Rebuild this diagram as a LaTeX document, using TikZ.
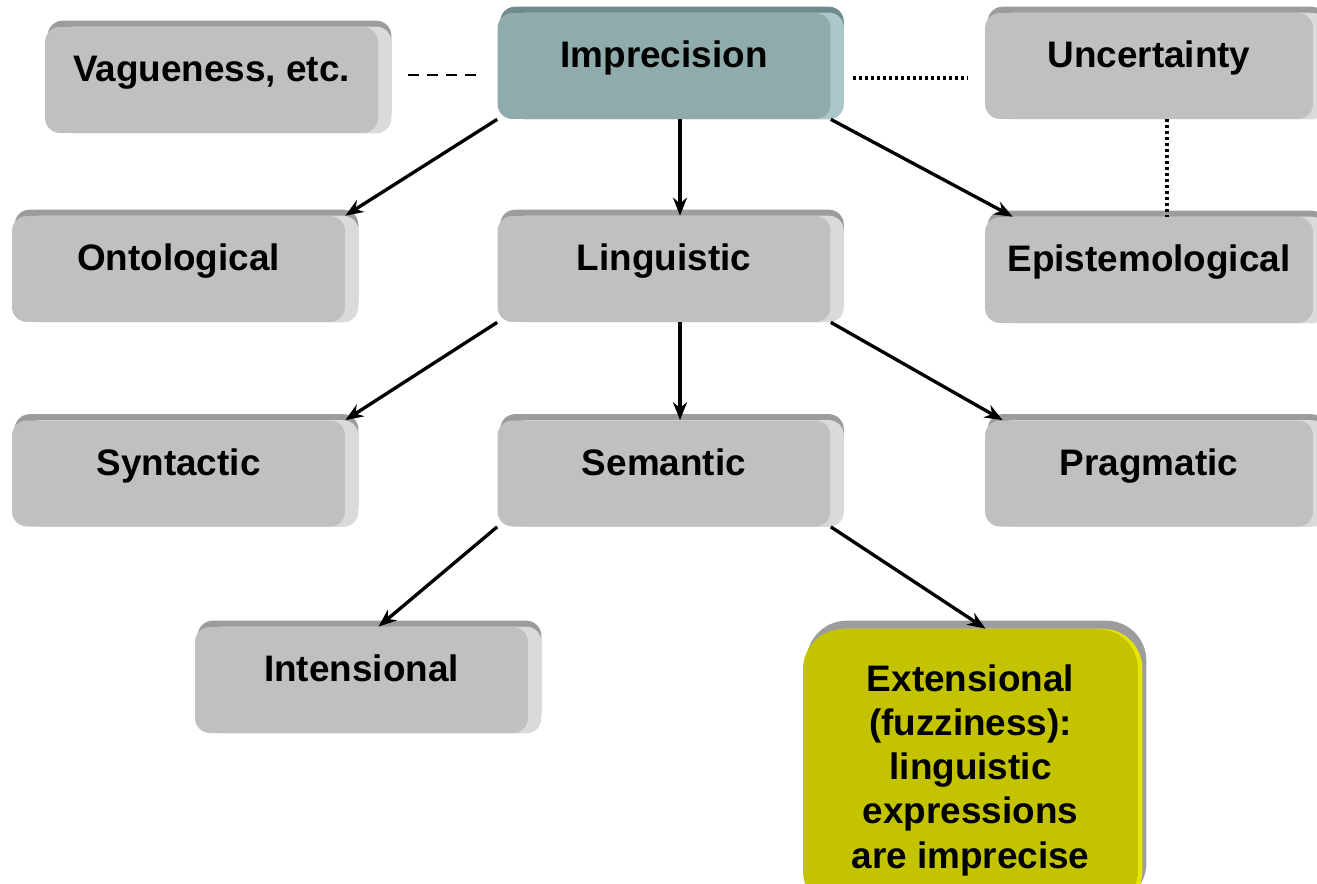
\documentclass[tikz,border=0pt]{standalone}
\usepackage{fontspec}
\setmainfont{Liberation Sans}
\usetikzlibrary{arrows.meta,backgrounds}
\definecolor{boxface}{HTML}{C0C0C0}
\definecolor{bevtop}{HTML}{9C9C9C}
\definecolor{bevside}{HTML}{DADADA}
\definecolor{impface}{HTML}{8FABAC}
\definecolor{imptop}{HTML}{6F8B8D}
\definecolor{impside}{HTML}{ABC7C9}
\definecolor{extface}{HTML}{C4C300}
\definecolor{extside}{HTML}{E6E600}
\tikzset{
  box/.style={rounded corners=0.3cm, fill=boxface, minimum width=6.66cm, minimum height=2.12cm,
    inner sep=0pt, text height=12pt, text depth=10.3pt},
  link/.style={line width=1.9pt, ->},
  dashline/.style={line width=1.2pt, dash pattern=on 0.22cm off 0.16cm},
  dotline/.style={line width=1.8pt, dash pattern=on 0.06cm off 0.06cm}
}
\begin{document}
\begin{tikzpicture}[x=0.02cm, y=-0.02cm, line join=round, >={Stealth[length=0.36cm,width=0.28cm]},
    font=\fontsize{21}{25.2}\selectfont\bfseries]
  \useasboundingbox (0,0) rectangle (1317,883);
  \clip (0,0) rectangle (1317,883);
  % boxes
  \node[box] (vag) at (211.5,80) {Vagueness, etc.};
  \node[box, fill=impface] (imp) at (664,66) {Imprecision};
  \node[box, minimum width=6.56cm] (unc) at (1149,66) {Uncertainty};
  \node[box] (ont) at (178.5,269) {Ontological};
  \node[box] (lin) at (664,269) {Linguistic};
  \node[box, minimum width=6.56cm] (epi) at (1149,270) {Epistemological};
  \node[box] (syn) at (178.5,473.5) {Syntactic};
  \node[box] (sem) at (664,473.5) {Semantic};
  \node[box, minimum width=6.56cm] (pra) at (1149,473.5) {Pragmatic};
  \node[box] (int) at (361.5,680) {Intensional};
  \node[box, rounded corners=0.8cm, fill=extface, minimum width=6.7cm, minimum height=5.64cm,
    text height=, text depth=, align=center] (ext) at (970.5,770)
    {Extensional\\(fuzziness):\\linguistic\\expressions\\are imprecise};
  % bevels
  \begin{scope}[on background layer]
    \foreach \nm/\tc/\sc in {vag/bevtop/bevside, imp/imptop/impside, unc/bevtop/bevside,
        ont/bevtop/bevside, lin/bevtop/bevside, epi/bevtop/bevside, syn/bevtop/bevside,
        sem/bevtop/bevside, pra/bevtop/bevside, int/bevtop/bevside} {
      \fill[\tc, rounded corners=0.3cm] ([shift={(3,-6)}]\nm.south west) rectangle ([shift={(13,-6)}]\nm.north east);
      \fill[\sc, rounded corners=0.3cm] ([shift={(13,0)}]\nm.south west) rectangle ([shift={(13,0)}]\nm.north east);
    }
    \fill[bevtop, rounded corners=0.8cm] ([shift={(4,-8)}]ext.south west) rectangle ([shift={(8,-8)}]ext.north east);
    \fill[extside, rounded corners=0.8cm] ([shift={(4,0)}]ext.south west) rectangle ([shift={(4,0)}]ext.north east);
  \end{scope}
  % connectors
  \draw[link] (imp.south west) -- (ont.north east);
  \draw[link] ([xshift=0.32cm]imp.south) -- ([xshift=0.32cm]lin.north);
  \draw[link] (imp.south east) -- ([xshift=0.56cm]epi.north west);
  \draw[link] (lin.south west) -- (syn.north east);
  \draw[link] ([xshift=0.32cm]lin.south) -- ([xshift=0.32cm]sem.north);
  \draw[link] (lin.south east) -- ([xshift=0.36cm]pra.north west);
  \draw[link] (sem.south west) -- ([xshift=0.34cm]int.north);
  \draw[link] (sem.south east) -- ([xshift=0.3cm]ext.north);
  \draw[dashline, shorten <=0.6cm, shorten >=0.26cm] ([yshift=0.1cm]vag.east) -- ([yshift=0.1cm]vag.east -| imp.west);
  \draw[dotline, shorten <=0.44cm, shorten >=0.34cm] ([yshift=-0.24cm]imp.east) -- ([yshift=-0.24cm]imp.east -| unc.west);
  \draw[dotline] ([xshift=0.36cm]unc.south) -- ([xshift=0.36cm]epi.north);
\end{tikzpicture}
\end{document}
